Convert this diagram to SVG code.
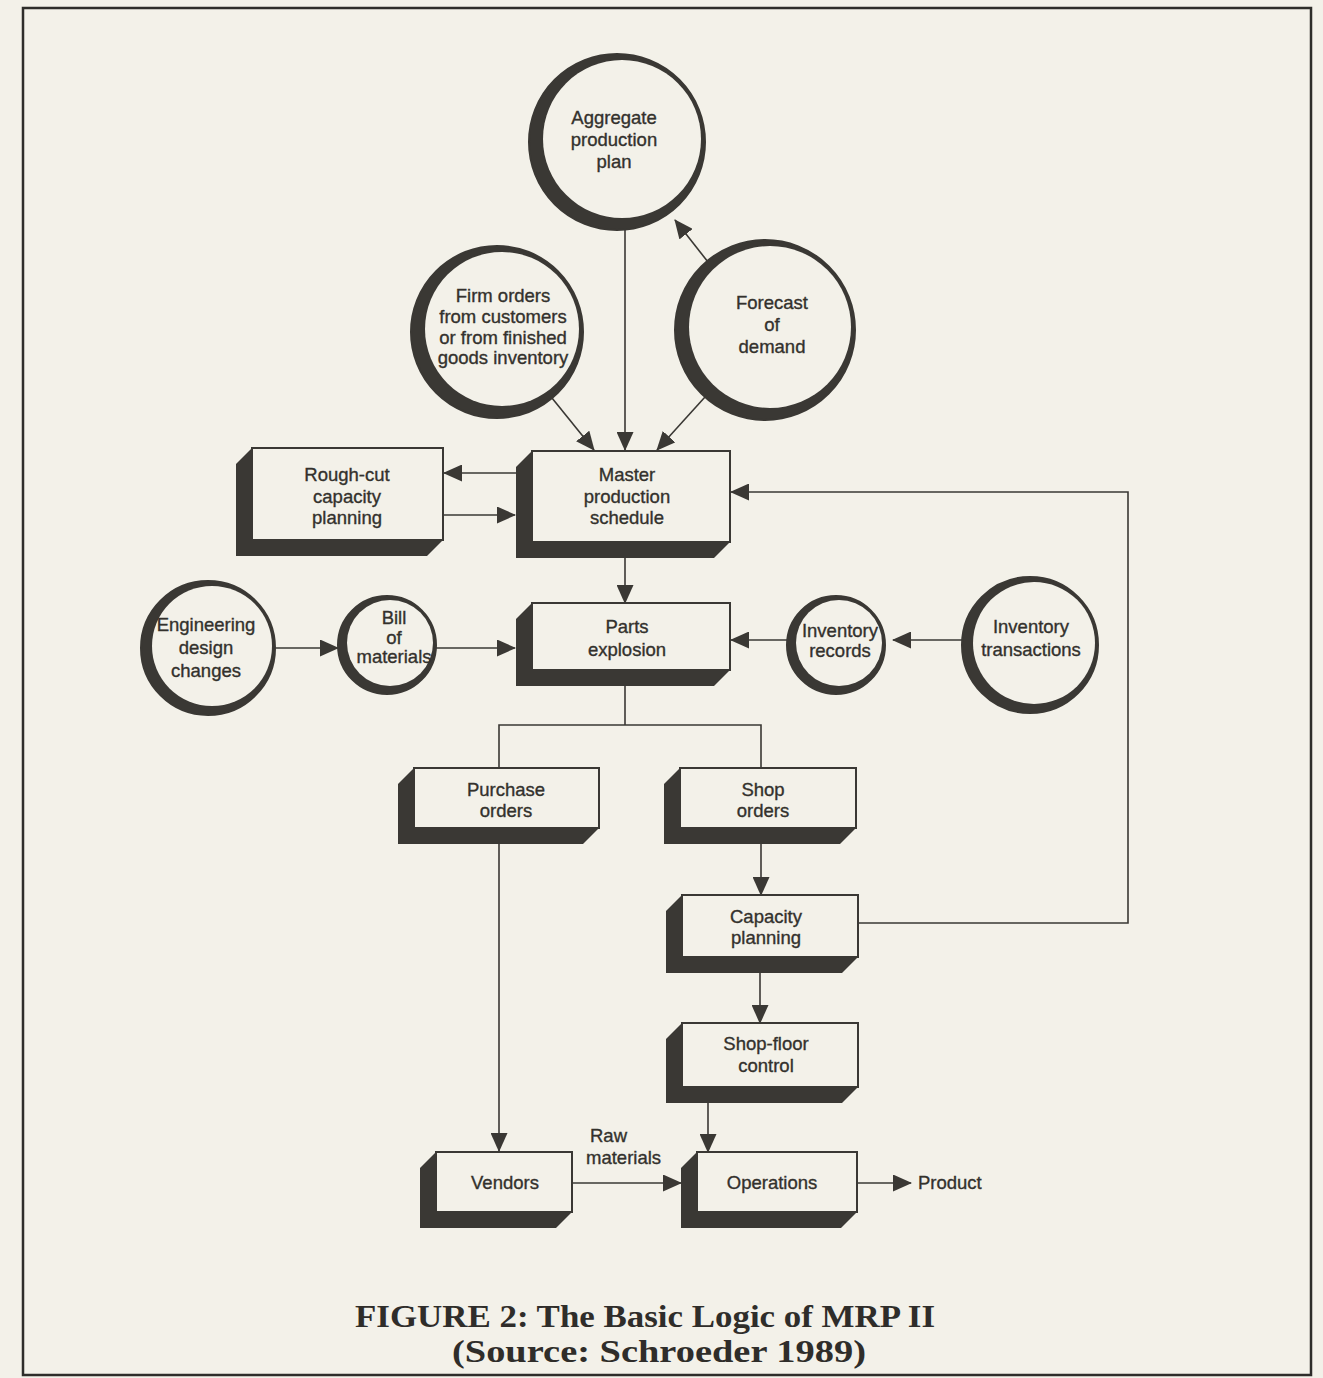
<svg xmlns="http://www.w3.org/2000/svg" width="1323" height="1378" viewBox="0 0 1323 1378">
<defs>
<style>
.lbl{font-family:"Liberation Sans","DejaVu Sans",Arial,sans-serif;font-size:18.5px;fill:#33312d;stroke:#33312d;stroke-width:0.35;text-anchor:middle}
.lbll{font-family:"Liberation Sans","DejaVu Sans",Arial,sans-serif;font-size:18.5px;fill:#33312d;stroke:#33312d;stroke-width:0.35}
.cap{font-family:"Liberation Serif","Times New Roman",serif;font-weight:bold;font-size:31px;fill:#2f2d2a}
.shade{fill:#3a3834}
.inner{fill:#f3f1e9}
.ring{fill:none;stroke:#3a3834;stroke-width:2}
.ext{fill:#3a3834}
.face{fill:#f3f1e9;stroke:#3a3834;stroke-width:2}
.conn{fill:none;stroke:#3a3834;stroke-width:1.6}
</style>
<marker id="ah" markerWidth="19" markerHeight="17" refX="18" refY="8.5" orient="auto" markerUnits="userSpaceOnUse">
<path d="M0,0 L19,8.5 L0,17 Z" fill="#3a3834"/>
</marker>
</defs>
<rect x="0" y="0" width="1323" height="1378" fill="#f3f1e9"/>
<rect x="23" y="8" width="1288" height="1367" fill="none" stroke="#2e2d2a" stroke-width="2.5"/>

<g id="connectors">
<line class="conn" x1="625" y1="230" x2="625" y2="450" marker-end="url(#ah)"/>
<line class="conn" x1="552" y1="398" x2="594" y2="450" marker-end="url(#ah)"/>
<line class="conn" x1="705" y1="397" x2="657" y2="450" marker-end="url(#ah)"/>
<line class="conn" x1="708" y1="262" x2="675" y2="220" marker-end="url(#ah)"/>
<line class="conn" x1="516" y1="473" x2="444" y2="473" marker-end="url(#ah)"/>
<line class="conn" x1="443" y1="515" x2="515" y2="515" marker-end="url(#ah)"/>
<line class="conn" x1="625" y1="558" x2="625" y2="603" marker-end="url(#ah)"/>
<line class="conn" x1="276" y1="648" x2="338" y2="648" marker-end="url(#ah)"/>
<line class="conn" x1="436" y1="648" x2="515" y2="648" marker-end="url(#ah)"/>
<line class="conn" x1="788" y1="640" x2="731" y2="640" marker-end="url(#ah)"/>
<line class="conn" x1="962" y1="640" x2="893" y2="640" marker-end="url(#ah)"/>
<polyline class="conn" points="625,686 625,725"/>
<polyline class="conn" points="499,768 499,725 761,725 761,768"/>
<line class="conn" x1="499" y1="844" x2="499" y2="1151" marker-end="url(#ah)"/>
<line class="conn" x1="761" y1="844" x2="761" y2="895" marker-end="url(#ah)"/>
<line class="conn" x1="760" y1="973" x2="760" y2="1023" marker-end="url(#ah)"/>
<line class="conn" x1="708" y1="1103" x2="708" y2="1152" marker-end="url(#ah)"/>
<polyline class="conn" points="858,923 1128,923 1128,492 731,492" marker-end="url(#ah)"/>
<line class="conn" x1="572" y1="1183" x2="681" y2="1183" marker-end="url(#ah)"/>
<line class="conn" x1="857" y1="1183" x2="911" y2="1183" marker-end="url(#ah)"/>
</g>

<g id="aggregate">
<circle class="shade" cx="617" cy="142" r="88"/>
<circle class="inner" cx="622" cy="139" r="79"/>
<circle class="ring" cx="617" cy="142" r="88"/>
<text class="lbl" x="614" y="124">Aggregate</text>
<text class="lbl" x="614" y="146">production</text>
<text class="lbl" x="614" y="168">plan</text>
</g>

<g id="firm-orders">
<circle class="shade" cx="497" cy="332" r="86"/>
<circle class="inner" cx="502" cy="329" r="77"/>
<circle class="ring" cx="497" cy="332" r="86"/>
<text class="lbl" x="503" y="302">Firm orders</text>
<text class="lbl" x="503" y="323">from customers</text>
<text class="lbl" x="503" y="344">or from finished</text>
<text class="lbl" x="503" y="364">goods inventory</text>
</g>

<g id="forecast">
<circle class="shade" cx="765" cy="330" r="90"/>
<circle class="inner" cx="770" cy="327" r="81"/>
<circle class="ring" cx="765" cy="330" r="90"/>
<text class="lbl" x="772" y="309">Forecast</text>
<text class="lbl" x="772" y="331">of</text>
<text class="lbl" x="772" y="353">demand</text>
</g>

<g id="rough-cut">
<polygon class="ext" points="252,448 443,448 443,540 427,556 236,556 236,464"/>
<rect class="face" x="252" y="448" width="191" height="92"/>
<text class="lbl" x="347" y="481">Rough-cut</text>
<text class="lbl" x="347" y="503">capacity</text>
<text class="lbl" x="347" y="524">planning</text>
</g>

<g id="master">
<polygon class="ext" points="532,451 730,451 730,542 714,558 516,558 516,467"/>
<rect class="face" x="532" y="451" width="198" height="91"/>
<text class="lbl" x="627" y="481">Master</text>
<text class="lbl" x="627" y="503">production</text>
<text class="lbl" x="627" y="524">schedule</text>
</g>

<g id="engineering">
<circle class="shade" cx="208" cy="648" r="67"/>
<circle class="inner" cx="212" cy="646" r="60"/>
<circle class="ring" cx="208" cy="648" r="67"/>
<text class="lbl" x="206" y="631">Engineering</text>
<text class="lbl" x="206" y="654">design</text>
<text class="lbl" x="206" y="677">changes</text>
</g>

<g id="bill">
<circle class="shade" cx="387" cy="645" r="49"/>
<circle class="inner" cx="390" cy="643" r="43"/>
<circle class="ring" cx="387" cy="645" r="49"/>
<text class="lbl" x="394" y="624">Bill</text>
<text class="lbl" x="394" y="644">of</text>
<text class="lbl" x="394" y="663">materials</text>
</g>

<g id="parts">
<polygon class="ext" points="532,603 730,603 730,670 714,686 516,686 516,619"/>
<rect class="face" x="532" y="603" width="198" height="67"/>
<text class="lbl" x="627" y="633">Parts</text>
<text class="lbl" x="627" y="656">explosion</text>
</g>

<g id="inventory-records">
<circle class="shade" cx="836" cy="645" r="49"/>
<circle class="inner" cx="839" cy="643" r="43"/>
<circle class="ring" cx="836" cy="645" r="49"/>
<text class="lbl" x="840" y="637">Inventory</text>
<text class="lbl" x="840" y="657">records</text>
</g>

<g id="inventory-transactions">
<circle class="shade" cx="1030" cy="645" r="68"/>
<circle class="inner" cx="1034" cy="643" r="61"/>
<circle class="ring" cx="1030" cy="645" r="68"/>
<text class="lbl" x="1031" y="633">Inventory</text>
<text class="lbl" x="1031" y="656">transactions</text>
</g>

<g id="purchase">
<polygon class="ext" points="414,768 599,768 599,828 583,844 398,844 398,784"/>
<rect class="face" x="414" y="768" width="185" height="60"/>
<text class="lbl" x="506" y="796">Purchase</text>
<text class="lbl" x="506" y="817">orders</text>
</g>

<g id="shop-orders">
<polygon class="ext" points="680,768 856,768 856,828 840,844 664,844 664,784"/>
<rect class="face" x="680" y="768" width="176" height="60"/>
<text class="lbl" x="763" y="796">Shop</text>
<text class="lbl" x="763" y="817">orders</text>
</g>

<g id="capacity">
<polygon class="ext" points="682,895 858,895 858,957 842,973 666,973 666,911"/>
<rect class="face" x="682" y="895" width="176" height="62"/>
<text class="lbl" x="766" y="923">Capacity</text>
<text class="lbl" x="766" y="944">planning</text>
</g>

<g id="shop-floor">
<polygon class="ext" points="682,1023 858,1023 858,1087 842,1103 666,1103 666,1039"/>
<rect class="face" x="682" y="1023" width="176" height="64"/>
<text class="lbl" x="766" y="1050">Shop-floor</text>
<text class="lbl" x="766" y="1072">control</text>
</g>

<g id="vendors">
<polygon class="ext" points="436,1152 572,1152 572,1212 556,1228 420,1228 420,1168"/>
<rect class="face" x="436" y="1152" width="136" height="60"/>
<text class="lbl" x="505" y="1189">Vendors</text>
</g>

<g id="operations">
<polygon class="ext" points="697,1152 857,1152 857,1212 841,1228 681,1228 681,1168"/>
<rect class="face" x="697" y="1152" width="160" height="60"/>
<text class="lbl" x="772" y="1189">Operations</text>
</g>

<g id="labels">
<text class="lbll" x="590" y="1142">Raw</text>
<text class="lbll" x="586" y="1164">materials</text>
<text class="lbll" x="918" y="1189">Product</text>
</g>

<g id="caption">
<text class="cap" x="355" y="1327" textLength="580" lengthAdjust="spacingAndGlyphs">FIGURE 2:  The Basic Logic of MRP II</text>
<text class="cap" x="452" y="1362" textLength="414" lengthAdjust="spacingAndGlyphs">(Source: Schroeder 1989)</text>
</g>
</svg>
